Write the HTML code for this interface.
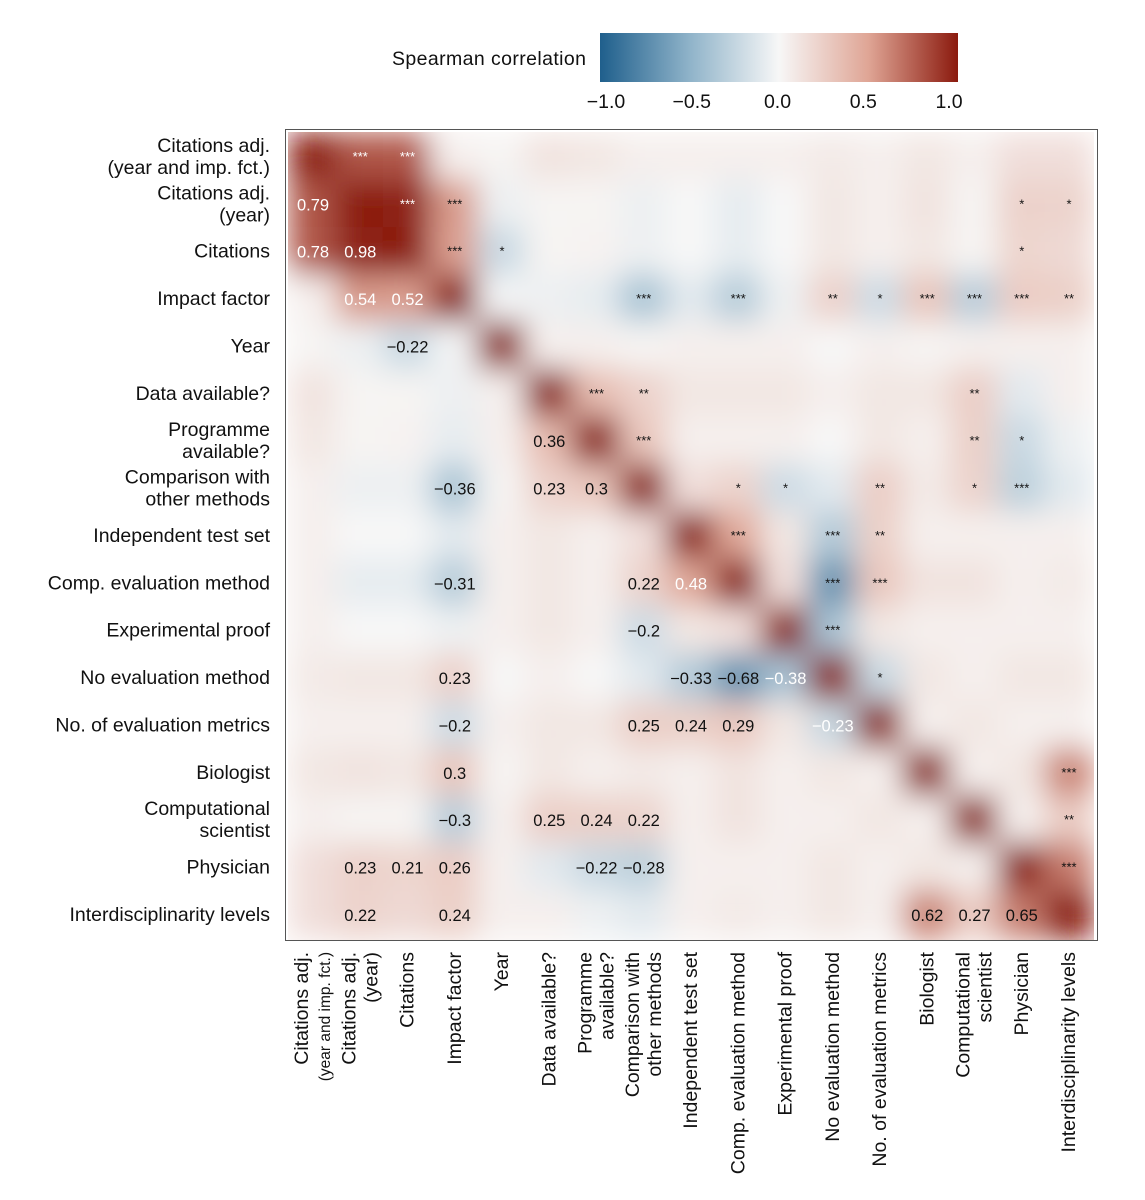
<!DOCTYPE html>
<html><head><meta charset="utf-8"><style>
body{margin:0;background:#fff;}
svg{display:block;font-family:"Liberation Sans",sans-serif;}
</style></head><body>
<svg id="chart" width="1145" height="1200" viewBox="0 0 1145 1200">
<defs>
<linearGradient id="cbar" x1="0" x2="1" y1="0" y2="0">
<stop offset="0" stop-color="#1F5F8C"/><stop offset="0.25" stop-color="#8FB3C9"/><stop offset="0.5" stop-color="#F7F7F7"/><stop offset="0.75" stop-color="#DFA595"/><stop offset="1" stop-color="#8B1A0E"/>
</linearGradient>
<filter id="blur" x="0" y="0" width="1" height="1" filterUnits="objectBoundingBox"><feGaussianBlur stdDeviation="15" edgeMode="duplicate"/></filter>
<clipPath id="clip"><rect x="286" y="130" width="811" height="810"/></clipPath>
</defs>
<g>
<text x="392" y="65" font-size="19.5" fill="#111" textLength="194">Spearman correlation</text>
<rect x="600" y="33" width="358" height="49" fill="url(#cbar)"/>
<g id="cbticks"></g>
</g>
<g clip-path="url(#clip)"><g id="cells" filter="url(#blur)"></g></g>
<rect x="285.5" y="129.5" width="812" height="811" fill="none" stroke="#555" stroke-width="1"/>
<g id="marks"></g>
<g id="ylab"></g>
<g id="xlab"></g>
</svg>
<script>
const categories = [
 ["Citations adj.","(year and imp. fct.)"],["Citations adj.","(year)"],["Citations"],["Impact factor"],["Year"],
 ["Data available?"],["Programme","available?"],["Comparison with","other methods"],["Independent test set"],
 ["Comp. evaluation method"],["Experimental proof"],["No evaluation method"],["No. of evaluation metrics"],
 ["Biologist"],["Computational","scientist"],["Physician"],["Interdisciplinarity levels"]];
const lowerValues = [
 [],
 [0.79],
 [0.78,0.98],
 [0.05,0.54,0.52],
 [0.02,-0.05,-0.22,-0.02],
 [0.12,0.02,0.02,-0.05,0.05],
 [0.10,0.02,0.03,-0.08,0.05,0.36],
 [0.05,-0.05,-0.05,-0.36,0.02,0.23,0.30],
 [0.05,0.00,0.00,-0.10,0.05,0.10,0.05,0.15],
 [0.05,-0.08,-0.08,-0.31,0.05,0.10,0.05,0.22,0.48],
 [0.05,0.00,0.00,-0.05,0.05,0.10,0.05,-0.20,0.10,0.15],
 [0.08,0.10,0.10,0.23,0.00,0.05,0.00,-0.10,-0.33,-0.68,-0.38],
 [0.05,0.05,0.05,-0.20,0.05,0.10,0.10,0.25,0.24,0.29,0.10,-0.23],
 [0.10,0.12,0.10,0.30,0.02,0.10,0.05,0.08,0.05,0.12,0.05,0.10,0.05],
 [0.05,0.02,0.02,-0.30,0.05,0.25,0.24,0.22,0.05,0.12,0.05,0.05,0.10,0.05],
 [0.15,0.23,0.21,0.26,0.05,-0.10,-0.22,-0.28,0.05,0.05,0.05,0.10,0.05,0.10,0.05],
 [0.15,0.22,0.18,0.24,0.05,0.05,-0.05,-0.10,0.05,0.08,0.05,0.10,0.05,0.62,0.27,0.65]];
const printedCells = [[1,0],[2,0],[2,1],[3,1],[3,2],[4,2],[6,5],[7,3],[7,5],[7,6],[9,3],[9,7],[9,8],[10,7],
 [11,3],[11,8],[11,9],[11,10],[12,3],[12,7],[12,8],[12,9],[12,11],[13,3],[14,3],[14,5],[14,6],[14,7],
 [15,1],[15,2],[15,3],[15,6],[15,7],[16,1],[16,3],[16,13],[16,14],[16,15]];
const whiteCells = [[1,0],[2,0],[2,1],[3,1],[3,2],[9,8],[11,10],[12,11]];
const stars = [[0,1,"***"],[0,2,"***"],[1,2,"***"],[1,3,"***"],[1,15,"*"],[1,16,"*"],[2,3,"***"],[2,4,"*"],[2,15,"*"],
 [3,7,"***"],[3,9,"***"],[3,11,"**"],[3,12,"*"],[3,13,"***"],[3,14,"***"],[3,15,"***"],[3,16,"**"],
 [5,6,"***"],[5,7,"**"],[5,14,"**"],[6,7,"***"],[6,14,"**"],[6,15,"*"],
 [7,9,"*"],[7,10,"*"],[7,12,"**"],[7,14,"*"],[7,15,"***"],[8,9,"***"],[8,11,"***"],[8,12,"**"],
 [9,11,"***"],[9,12,"***"],[10,11,"***"],[11,12,"*"],[13,16,"***"],[14,16,"**"],[15,16,"***"]];
const whiteStars = [[0,1],[0,2],[1,2]];
const colorTicks = [-1.0,-0.5,0.0,0.5,1.0];
const tickLabels = ["\u22121.0","\u22120.5","0.0","0.5","1.0"];

const NS="http://www.w3.org/2000/svg";
const n = categories.length;
const x0=289.4, y0=133.3, step=47.25, stepY=47.375;
const xScale = j => x0 + step*j;
const yScale = i => y0 + stepY*i;
const cbScale = v => 606 + (v+1)/2*343;
const stops=[[-1,[31,95,140]],[-0.5,[143,179,201]],[0,[247,247,247]],[0.5,[223,165,149]],[1,[139,26,14]]];
function color(v){
  v=Math.max(-1,Math.min(1,v));
  for(let k=0;k<stops.length-1;k++){
    const [a,ca]=stops[k],[b,cb]=stops[k+1];
    if(v<=b){const t=(v-a)/(b-a);return "rgb("+ca.map((c,m)=>Math.round(c+(cb[m]-c)*t)).join(",")+")";}
  }
  return "rgb(139,26,14)";
}
function val(i,j){ if(i===j) return 1; return i>j? lowerValues[i][j] : lowerValues[j][i]; }
function fmt(v){ let s=String(Math.round(v*100)/100); return s.replace("-","\u2212"); }
function isIn(list,i,j){ return list.some(p=>p[0]===i&&p[1]===j); }

const cells=document.getElementById("cells");
for(let i=0;i<n;i++)for(let j=0;j<n;j++){
  const r=document.createElementNS(NS,"rect");
  r.setAttribute("x",xScale(j)-1);r.setAttribute("y",yScale(i)-1);
  r.setAttribute("width",step+2);r.setAttribute("height",stepY+2);
  r.setAttribute("fill",color(val(i,j)));
  
  
  cells.appendChild(r);
}
const marks=document.getElementById("marks");
printedCells.forEach(([i,j])=>{
  const t=document.createElementNS(NS,"text");
  t.setAttribute("x",xScale(j)+step/2);t.setAttribute("y",yScale(i)+stepY/2+6);
  t.setAttribute("text-anchor","middle");t.setAttribute("font-size","16.5");
  t.setAttribute("fill",isIn(whiteCells,i,j)?"#fff":"#111");
  t.textContent=fmt(val(i,j));
  
  
  marks.appendChild(t);
});
stars.forEach(([i,j,s])=>{
  const t=document.createElementNS(NS,"text");
  t.setAttribute("x",xScale(j)+step/2);t.setAttribute("y",yScale(i)+stepY/2+4);
  t.setAttribute("text-anchor","middle");t.setAttribute("font-size","13");
  t.setAttribute("fill",isIn(whiteStars,i,j)?"#fff":"#111");
  t.textContent=s;
  
  
  marks.appendChild(t);
});
const ylab=document.getElementById("ylab");
categories.forEach((lines,i)=>{
  const cy=yScale(i)+stepY/2;
  lines.forEach((ln,k)=>{
    const t=document.createElementNS(NS,"text");
    const off=lines.length===1?0:(k===0?-11:11);
    t.setAttribute("x",270);t.setAttribute("y",cy+off+6);
    t.setAttribute("text-anchor","end");t.setAttribute("font-size","19.5");t.setAttribute("fill","#111");
    t.textContent=ln;
    
    
    ylab.appendChild(t);
  });
});
const xlab=document.getElementById("xlab");
categories.forEach((lines,j)=>{
  const cx=xScale(j)+step/2;
  lines.forEach((ln,k)=>{
    const off=lines.length===1?0:(k===0?-11:11);
    const px=cx+off+6, py=952;
    const t=document.createElementNS(NS,"text");
    t.setAttribute("x",px);t.setAttribute("y",py);
    t.setAttribute("transform","rotate(-90 "+px+" "+py+")");
    t.setAttribute("text-anchor","end");
    t.setAttribute("font-size",(j===0&&k===1)?"15.5":"19.5");
    t.setAttribute("fill","#111");
    t.textContent=ln;
    
    
    xlab.appendChild(t);
  });
});
const cbt=document.getElementById("cbticks");
colorTicks.forEach((v,k)=>{
  const t=document.createElementNS(NS,"text");
  t.setAttribute("x",cbScale(v));t.setAttribute("y",108);
  t.setAttribute("text-anchor","middle");t.setAttribute("font-size","19.5");t.setAttribute("fill","#111");
  t.textContent=tickLabels[k];
  
  
  cbt.appendChild(t);
});
</script>
</body></html>
